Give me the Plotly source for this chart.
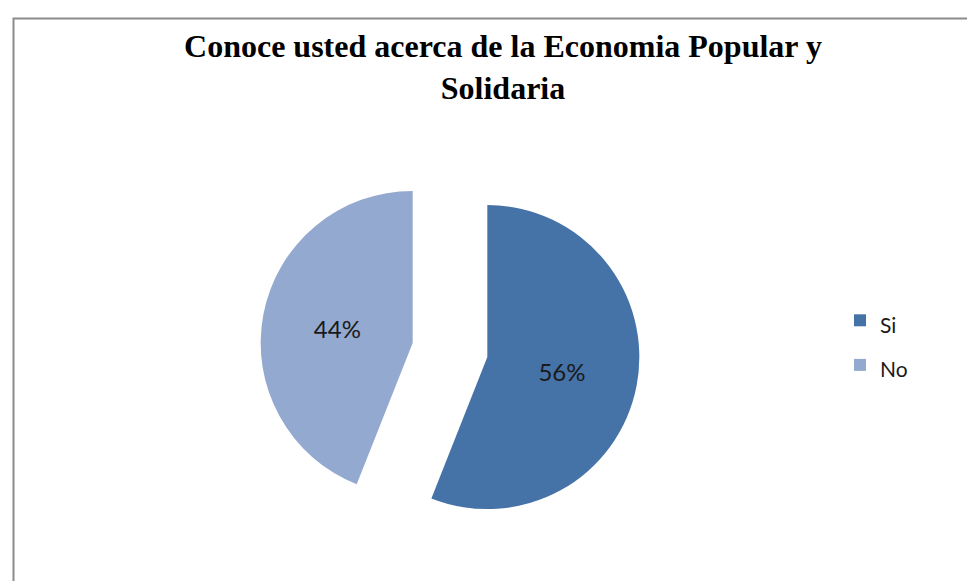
import plotly.graph_objects as go

labels = ["Si", "No"]
values = [56, 44]
colors = ["#4572A7", "#93A9CF"]
title_text = "Conoce usted acerca de la Economia Popular y<br>Solidaria"

W, H = 975, 581
cx, cy = 442, 342
half = 190
fig = go.Figure(go.Pie(
    labels=[f"<span style='font-size:21px'>{l}</span>" for l in labels],
    values=values,
    sort=False,
    direction="clockwise",
    rotation=0,
    pull=[0.25, 0.25],
    marker=dict(colors=colors, line=dict(width=0)),
    textinfo="percent",
    textposition="inside",
    insidetextorientation="horizontal",
    textfont=dict(family="Lato, Liberation Sans", size=24, color="#1a1a1a"),
    domain=dict(x=[(cx - half) / W, (cx + half) / W], y=[1 - (cy + half) / H, 1 - (cy - half) / H]),
    hoverinfo="label+percent",
))

fig.update_layout(
    width=W, height=H,
    margin=dict(l=0, r=0, t=0, b=0),
    paper_bgcolor="white",
    title=dict(text=f"<b>{title_text}</b>", x=495 / W, xanchor="center", y=1 - 49 / H, yanchor="top",
               font=dict(family="Liberation Serif, Times New Roman", size=32, color="black")),
    legend=dict(x=832 / W, xanchor="left", y=1 - 335 / H, yanchor="middle",
                font=dict(family="Lato, Liberation Sans", size=32, color="#1a1a1a"),
                bgcolor="rgba(0,0,0,0)"),
    shapes=[dict(type="rect", xref="paper", yref="paper", x0=5.5 / W, x1=1.05, y0=-0.05, y1=1 - 10.5 / H,
                 line=dict(color="#8c8c8c", width=2), fillcolor="rgba(0,0,0,0)", layer="below")],
)

fig.write_html("out.html")
